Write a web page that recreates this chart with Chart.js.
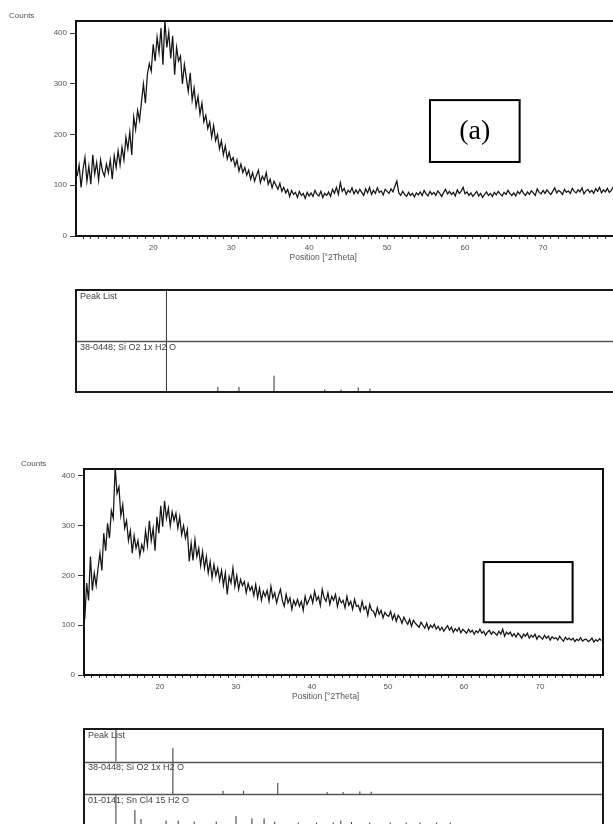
<!DOCTYPE html>
<html><head><meta charset="utf-8">
<script src="https://cdn.jsdelivr.net/npm/chart.js@4"></script>
<style>
html,body{margin:0;padding:0;background:#fff;overflow:hidden;width:613px;height:824px;position:relative;}
canvas{position:absolute;left:0;}
</style></head><body>
<canvas id="ca" width="625" height="265" style="top:0px"></canvas>
<canvas id="pa" width="625" height="120" style="top:280px"></canvas>
<canvas id="cb" width="613" height="270" style="top:440px"></canvas>
<canvas id="pb" width="613" height="115" style="top:720px"></canvas>
<script>
// ---------- data ----------
const xTickLabels = [20, 30, 40, 50, 60, 70];
const yTickLabels = [0, 100, 200, 300, 400];
const xTitle = 'Position [°2Theta]';
const yTitle = 'Counts';

// pattern (a): scan start / step (°2Theta) and counts
const startA = 10.25, stepA = 0.25;
const countsA = [
 118,140,96,132,155,108,138,102,
 160,122,145,110,150,128,118,142,
 125,150,112,158,135,168,140,175,
 150,195,172,205,160,235,210,248,
 228,265,300,262,318,340,325,378,
 345,392,362,410,338,425,372,402,
 350,395,318,372,345,355,300,338,
 312,285,322,268,292,255,275,240,
 262,225,238,212,225,195,218,188,
 200,172,188,160,178,152,165,148,
 155,138,150,128,142,125,135,120,
 130,112,125,108,120,130,105,118,
 110,125,102,112,95,108,100,92,
 104,88,96,85,92,78,90,82,
 86,76,88,80,84,74,86,79,
 85,78,90,82,79,88,76,84,
 80,87,78,92,84,96,82,105,
 88,94,82,90,86,95,83,91,
 84,92,86,80,93,85,96,82,
 90,84,95,86,89,81,92,88,
 84,93,87,98,108,85,80,88,
 82,78,86,80,84,77,85,81,
 87,80,90,83,79,88,82,86,
 80,89,84,78,86,92,83,88,
 82,86,79,91,84,88,96,83,
 87,80,85,78,83,88,79,84,
 76,82,87,80,84,78,86,81,
 88,83,79,86,82,90,84,80,
 85,79,88,83,91,84,80,87,
 82,89,85,80,93,86,83,90,
 84,91,86,82,88,95,85,90,
 87,82,92,86,89,84,94,88,
 85,91,87,95,83,89,92,86,
 90,84,93,88,96,85,91,87,
 94,86,90,97,88,92,85,90
];

// pattern (b)
const startB = 10.1, stepB = 0.25;
const countsB = [
 112,185,150,238,170,205,180,215,
 245,210,285,250,305,275,330,315,
 418,365,378,320,342,295,310,270,
 290,245,280,255,270,240,262,250,
 290,260,310,270,295,250,318,285,
 340,298,350,315,335,300,328,310,
 325,295,318,282,300,275,292,228,
 265,230,272,238,255,220,248,215,
 238,205,228,195,222,200,215,190,
 210,180,205,162,198,185,215,178,
 200,172,192,180,188,165,184,170,
 178,160,182,155,175,150,168,158,
 170,148,178,155,165,145,160,172,
 150,138,162,145,155,132,150,140,
 152,138,148,130,158,142,150,160,
 145,168,150,158,140,172,155,148,
 165,142,158,150,162,138,155,145,
 150,135,158,140,148,132,152,138,
 140,128,148,132,138,120,142,130,
 128,118,135,122,130,115,126,120,
 118,128,112,122,108,120,114,104,
 116,108,102,112,98,110,104,100,
 96,106,100,94,104,92,100,95,
 102,92,98,90,96,88,94,99,
 90,96,86,93,88,95,85,92,
 88,84,92,86,90,82,89,85,
 92,84,88,80,86,90,82,87,
 84,80,88,82,92,78,86,82,
 86,78,83,76,84,80,74,82,
 78,84,74,80,76,82,72,79,
 76,72,80,74,78,70,77,73,
 75,70,78,72,68,76,71,74,
 70,74,67,72,69,75,68,71,
 72,67,70,74,66,71,68,73,
 69
];

// peak list / reference stick patterns (position °2Theta, height in % of row)
const peakListLabel = 'Peak List';
const sio2Label = '38-0448; Si O2 1x H2 O';
const sncl4Label = '01-0141; Sn Cl4 15 H2 O';
const peakListPosA = [21.7];
const peakListRelA = [100];
const peakListPosB = [14.2];
const peakListRelB = [100];
const sio2Pos  = [21.7, 28.3, 31.0, 35.5, 42.0, 44.1, 46.3, 47.8];
const sio2RelA = [100, 10, 10, 32, 5, 5, 9, 7];
const sio2RelB = [142, 10, 10, 34, 6, 6, 8, 7];
const sncl4Pos = [14.2, 16.7, 17.5, 20.8, 22.4, 24.5, 27.4, 30.0, 32.1, 33.7, 35.1, 38.2, 40.6, 42.8, 43.8, 45.2, 47.6, 50.3, 52.4, 54.2, 56.4, 58.2];
const sncl4Rel = [100, 51, 23, 18, 18, 15, 15, 32, 25, 25, 15, 12, 12, 12, 18, 14, 12, 12, 12, 12, 12, 12];

// ---------- drawing ----------
const SANS = '"Liberation Sans", Arial, sans-serif';
const SERIF = '"Liberation Serif", "Times New Roman", serif';

function scan(start, step, counts) {
  return counts.map((c, i) => ({ x: start + i * step, y: c }));
}

const framePlugin = {
  id: 'frame',
  afterDraw(chart, args, o) {
    const { ctx, chartArea: a } = chart;
    const x = chart.scales.x, y = chart.scales.y;
    ctx.save();
    ctx.strokeStyle = '#111'; ctx.lineWidth = 2;
    ctx.strokeRect(a.left, a.top, a.right - a.left, a.bottom - a.top);
    if (o.box) {
      const bx0 = x.getPixelForValue(o.box.x0), bx1 = x.getPixelForValue(o.box.x1);
      const by0 = y.getPixelForValue(o.box.y1), by1 = y.getPixelForValue(o.box.y0);
      ctx.fillStyle = '#fff';
      ctx.fillRect(bx0, by0, bx1 - bx0, by1 - by0);
      ctx.strokeStyle = '#000'; ctx.lineWidth = 2;
      ctx.strokeRect(bx0, by0, bx1 - bx0, by1 - by0);
      if (o.box.text) {
        ctx.fillStyle = '#000'; ctx.font = '28px ' + SERIF;
        ctx.textAlign = 'center'; ctx.textBaseline = 'middle';
        ctx.fillText(o.box.text, (bx0 + bx1) / 2, (by0 + by1) / 2 + 1);
      }
    }
    ctx.fillStyle = '#555'; ctx.font = '8px ' + SANS;
    ctx.textAlign = 'left'; ctx.textBaseline = 'middle';
    ctx.fillText(yTitle, a.left - o.countsDx, a.top - 5);
    ctx.textAlign = 'center';
    ctx.font = '8.5px ' + SANS;
    ctx.fillText(xTitle, x.getPixelForValue(o.titleAt), a.bottom + 22);
    ctx.restore();
  }
};

function makeXrd(id, data, o) {
  return new Chart(document.getElementById(id), {
    type: 'line',
    data: { datasets: [{ data, borderColor: '#151515', borderWidth: 1.25, pointRadius: 0, tension: 0, fill: false }] },
    options: {
      responsive: false, animation: false, parsing: false, normalized: true,
      layout: { padding: { left: 0, top: o.padTop, right: o.padRight, bottom: o.padBottom } },
      plugins: { legend: { display: false }, tooltip: { enabled: false }, frame: o.frame },
      scales: {
        x: {
          type: 'linear', min: o.xMin, max: o.xMax,
          afterFit: s => { s.height = 14; },
          afterBuildTicks: s => {
            const t = [];
            for (let v = Math.ceil(o.xMin); v <= Math.floor(o.xMax); v++) t.push({ value: v });
            s.ticks = t;
          },
          ticks: { autoSkip: false, maxRotation: 0, minRotation: 0, padding: 4, color: '#555',
                   font: { size: 8, family: SANS },
                   callback: v => xTickLabels.includes(v) ? String(v) : '' },
          grid: { drawOnChartArea: false, drawTicks: true, tickLength: 3, color: '#333', lineWidth: 1 },
          border: { display: true, color: '#111', width: 2 }
        },
        y: {
          type: 'linear', min: 0, max: o.yMax,
          afterFit: s => { s.width = o.yWidth; },
          afterBuildTicks: s => { s.ticks = yTickLabels.map(v => ({ value: v })); },
          ticks: { padding: 3, color: '#555', font: { size: 8, family: SANS } },
          grid: { drawOnChartArea: false, drawTicks: true, tickLength: 6, color: '#333', lineWidth: 1 },
          border: { display: true, color: '#111', width: 2 }
        }
      }
    },
    plugins: [framePlugin]
  });
}

const panelPlugin = {
  id: 'panel',
  afterDraw(chart, args, o) {
    const { ctx, chartArea: a } = chart;
    const y = chart.scales.y;
    ctx.save();
    ctx.strokeStyle = '#555'; ctx.lineWidth = 1.5;
    for (let r = 1; r < o.labels.length; r++) {
      const py = Math.round(y.getPixelForValue(r)) + 0.5;
      ctx.beginPath(); ctx.moveTo(a.left, py); ctx.lineTo(a.right, py); ctx.stroke();
    }
    ctx.strokeStyle = '#1a1a1a'; ctx.lineWidth = 2;
    ctx.strokeRect(a.left, a.top, a.right - a.left, a.bottom - a.top);
    ctx.fillStyle = '#444'; ctx.font = '9px ' + SANS;
    ctx.textAlign = 'left'; ctx.textBaseline = 'top';
    o.labels.forEach((lab, i) => {
      const top = y.getPixelForValue(o.labels.length - i);
      ctx.fillText(lab, a.left + 4, top + 2);
    });
    ctx.restore();
  }
};

function makePanel(id, o) {
  const n = o.rows.length;
  const datasets = [];
  o.rows.forEach((row, i) => {
    const base = n - 1 - i;
    row.pos.forEach((p, k) => {
      datasets.push({
        data: [{ x: p, y: base }, { x: p, y: base + row.rel[k] / 100 }],
        borderColor: '#333', borderWidth: 1, pointRadius: 0, fill: false
      });
    });
  });
  return new Chart(document.getElementById(id), {
    type: 'line',
    data: { datasets },
    options: {
      responsive: false, animation: false, parsing: false,
      layout: { padding: o.padding },
      plugins: { legend: { display: false }, tooltip: { enabled: false }, panel: { labels: o.rows.map(r => r.label) } },
      scales: {
        x: { type: 'linear', min: o.xMin, max: o.xMax, display: false },
        y: { type: 'linear', min: 0, max: n, display: false }
      }
    },
    plugins: [panelPlugin]
  });
}

makeXrd('ca', scan(startA, stepA, countsA), {
  xMin: 10.1, xMax: 80, yMax: 424, yWidth: 76,
  padTop: 21, padRight: 4, padBottom: 15,
  frame: { countsDx: 67, titleAt: 41.8, box: { x0: 55.5, x1: 67.0, y0: 146, y1: 268, text: '(a)' } }
});

makePanel('pa', {
  xMin: 10.1, xMax: 80,
  padding: { left: 76, right: 4, top: 10, bottom: 8 },
  rows: [
    { label: peakListLabel, pos: peakListPosA, rel: peakListRelA },
    { label: sio2Label, pos: sio2Pos, rel: sio2RelA }
  ]
});

makeXrd('cb', scan(startB, stepB, countsB), {
  xMin: 10.0, xMax: 78.3, yMax: 414, yWidth: 84,
  padTop: 29, padRight: 10, padBottom: 21,
  frame: { countsDx: 63, titleAt: 41.8, box: { x0: 62.6, x1: 74.3, y0: 106, y1: 227, text: '' } }
});

makePanel('pb', {
  xMin: 10.0, xMax: 78.3,
  padding: { left: 84, right: 10, top: 9, bottom: 8.5 },
  rows: [
    { label: peakListLabel, pos: peakListPosB, rel: peakListRelB },
    { label: sio2Label, pos: sio2Pos, rel: sio2RelB },
    { label: sncl4Label, pos: sncl4Pos, rel: sncl4Rel }
  ]
});
</script>
</body></html>
